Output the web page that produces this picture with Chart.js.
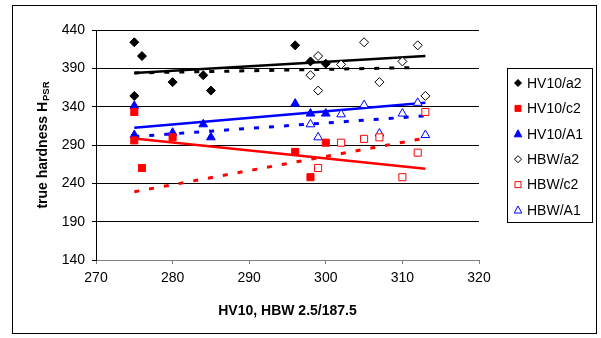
<!DOCTYPE html>
<html>
<head>
<meta charset="utf-8">
<script src="https://cdn.jsdelivr.net/npm/chart.js@4/dist/chart.umd.min.js"></script>
<style>
html, body { margin: 0; padding: 0; background: #fff; }
canvas { display: block; }
</style>
</head>
<body>
<canvas id="chart" width="601" height="338"></canvas>
<script>
// measured points, x = HV10 or HBW 2.5/187.5, y = true hardness
var hv10A2X = [275, 276, 275, 280, 284, 285, 296, 298, 300];
var hv10A2Y = [424, 406, 354, 372, 381, 361, 420, 399, 396];
var hv10C2X = [275, 275, 276, 280, 296, 298, 300];
var hv10C2Y = [333, 296, 260, 300, 281, 248, 293];
var hv10A1X = [275, 275, 280, 284, 285, 296, 298, 300];
var hv10A1Y = [341, 303, 306, 317, 300, 344, 331, 331];
var hbwA2X = [298, 299, 299, 302, 305, 307, 310, 312, 313];
var hbwA2Y = [381, 406, 361, 395, 424, 372, 399, 420, 354];
var hbwC2X = [299, 302, 305, 307, 310, 312, 313];
var hbwC2Y = [260, 293, 298, 300, 248, 280, 333];
var hbwA1X = [298, 299, 302, 305, 307, 310, 312, 313];
var hbwA1Y = [317, 300, 330, 342, 305, 331, 345, 303];

// trend lines, start and end: [x0, x1], [y0, y1]
var trendHv10A2X = [275, 313], trendHv10A2Y = [384, 406];
var trendHbwA2X = [275, 312], trendHbwA2Y = [384, 391];
var trendHv10A1X = [275, 313], trendHv10A1Y = [312.5, 345];
var trendHbwA1X = [275, 313], trendHbwA1Y = [301, 328];
var trendHv10C2X = [275, 313], trendHv10C2Y = [298.5, 259];
var trendHbwC2X = [275, 313], trendHbwC2Y = [229, 299];

var seriesNames = ['HV10/a2', 'HV10/c2', 'HV10/A1', 'HBW/a2', 'HBW/c2', 'HBW/A1'];
var xTicks = [270, 280, 290, 300, 310, 320];
var yTicks = [140, 190, 240, 290, 340, 390, 440];

var FONT = '"Liberation Sans", Arial, sans-serif';

function pts(xs, ys) {
    return xs.map(function (x, i) { return { x: x, y: ys[i] }; });
}

function markers(label, xs, ys, style, color, filled, r) {
    return {
        type: 'scatter',
        label: label,
        data: pts(xs, ys),
        pointStyle: style,
        pointRadius: r,
        pointHoverRadius: r,
        backgroundColor: filled ? color : '#fff',
        borderColor: color,
        pointBorderWidth: 1,
        order: 0
    };
}

function trend(xs, ys, color, dash, w) {
    return {
        type: 'line',
        data: pts(xs, ys),
        borderColor: color,
        borderWidth: w,
        borderDash: dash,
        borderCapStyle: 'butt',
        pointRadius: 0,
        fill: false,
        order: 1
    };
}

// frame, axis titles and the boxed legend
var decor = {
    id: 'decor',
    afterDraw: function (chart) {
        var ctx = chart.ctx;
        ctx.save();
        ctx.strokeStyle = '#000';
        ctx.lineWidth = 1;
        ctx.strokeRect(12.5, 5.5, 584, 328);

        // x title
        ctx.fillStyle = '#000';
        ctx.font = 'bold 14px ' + FONT;
        ctx.textAlign = 'center';
        ctx.textBaseline = 'middle';
        var a = chart.chartArea;
        ctx.fillText('HV10, HBW 2.5/187.5', (a.left + a.right) / 2, 311);

        // y title with subscript
        ctx.save();
        ctx.translate(42, (a.top + a.bottom) / 2);
        ctx.rotate(-Math.PI / 2);
        ctx.textAlign = 'left';
        ctx.textBaseline = 'alphabetic';
        var main = 'true hardness H', sub = 'PSR';
        ctx.font = 'bold 14px ' + FONT;
        var w1 = ctx.measureText(main).width;
        ctx.font = 'bold 9.5px ' + FONT;
        var w2 = ctx.measureText(sub).width;
        var s = -(w1 + w2 + 1) / 2;
        ctx.font = 'bold 14px ' + FONT;
        ctx.fillText(main, s, 5);
        ctx.font = 'bold 9.5px ' + FONT;
        ctx.fillText(sub, s + w1 + 1, 7);
        ctx.restore();

        // legend
        ctx.strokeStyle = '#000';
        ctx.strokeRect(507.5, 68.5, 85, 154);
        ctx.font = '14px ' + FONT;
        ctx.textAlign = 'left';
        ctx.textBaseline = 'middle';
        for (var i = 0; i < seriesNames.length; i++) {
            var ds = chart.data.datasets[i];
            var y = 83 + i * 25.4;
            var x = 518;
            ctx.fillStyle = ds.backgroundColor;
            ctx.strokeStyle = ds.borderColor;
            ctx.lineWidth = 1;
            ctx.beginPath();
            if (ds.pointStyle === 'rectRot') {
                ctx.moveTo(x, y - 3.5); ctx.lineTo(x + 3.5, y);
                ctx.lineTo(x, y + 3.5); ctx.lineTo(x - 3.5, y);
                ctx.closePath();
            } else if (ds.pointStyle === 'rect') {
                ctx.rect(x - 3, y - 3, 6, 6);
            } else {
                ctx.moveTo(x, y - 4); ctx.lineTo(x + 3.8, y + 3);
                ctx.lineTo(x - 3.8, y + 3); ctx.closePath();
            }
            ctx.fill();
            ctx.stroke();
            ctx.fillStyle = '#000';
            ctx.fillText(seriesNames[i], 527, y + 1);
        }
        ctx.restore();
    }
};

var ctx = document.getElementById('chart').getContext('2d');
var chart = new Chart(ctx, {
    data: {
        datasets: [
            markers(seriesNames[0], hv10A2X, hv10A2Y, 'rectRot', '#000', true, 4.5),
            markers(seriesNames[1], hv10C2X, hv10C2Y, 'rect', '#ff0000', true, 5),
            markers(seriesNames[2], hv10A1X, hv10A1Y, 'triangle', '#0000ff', true, 5),
            markers(seriesNames[3], hbwA2X, hbwA2Y, 'rectRot', '#000', false, 4.5),
            markers(seriesNames[4], hbwC2X, hbwC2Y, 'rect', '#ff0000', false, 5),
            markers(seriesNames[5], hbwA1X, hbwA1Y, 'triangle', '#0000ff', false, 5),
            trend(trendHv10A2X, trendHv10A2Y, '#000', [], 2.5),
            trend(trendHbwA2X, trendHbwA2Y, '#000', [5, 10], 3),
            trend(trendHv10A1X, trendHv10A1Y, '#0000ff', [], 2.5),
            trend(trendHbwA1X, trendHbwA1Y, '#0000ff', [5, 10], 3),
            trend(trendHv10C2X, trendHv10C2Y, '#ff0000', [], 2.5),
            trend(trendHbwC2X, trendHbwC2Y, '#ff0000', [5, 10], 3)
        ]
    },
    options: {
        responsive: false,
        animation: false,
        devicePixelRatio: 1,
        layout: { padding: { left: 40, right: 122, top: 30, bottom: 38 } },
        scales: {
            x: {
                type: 'linear',
                min: 270, max: 320,
                afterBuildTicks: function (s) { s.ticks = xTicks.map(function (v) { return { value: v }; }); },
                afterFit: function (s) { s.height = 40; },
                ticks: { color: '#000', font: { family: FONT, size: 14 }, padding: 6, maxRotation: 0 },
                grid: { drawOnChartArea: false, tickLength: 4, tickColor: '#808080' },
                border: { color: '#808080', width: 1 }
            },
            y: {
                type: 'linear',
                min: 140, max: 440,
                afterBuildTicks: function (s) { s.ticks = yTicks.map(function (v) { return { value: v }; }); },
                afterFit: function (s) { s.width = 56; },
                ticks: { color: '#000', font: { family: FONT, size: 14 }, padding: 7 },
                grid: { color: '#000', tickLength: 4, tickColor: '#000' },
                border: { color: '#000', width: 1 }
            }
        },
        plugins: { legend: { display: false }, tooltip: { enabled: false } }
    },
    plugins: [decor]
});
</script>
</body>
</html>
